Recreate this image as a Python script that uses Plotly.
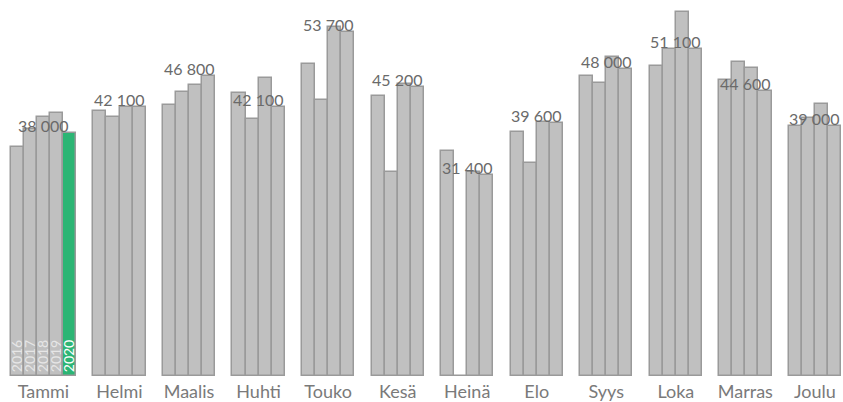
import plotly.graph_objects as go

months = ["Tammi", "Helmi", "Maalis", "Huhti", "Touko", "Kesä",
          "Heinä", "Elo", "Syys", "Loka", "Marras", "Joulu"]
years = ["2016", "2017", "2018", "2019", "2020"]

v2016 = [35800, 41400, 42400, 44200, 48800, 43800, 35200, 38200, 46800, 48500, 46300, 39100]
v2017 = [38600, 40400, 44300, 40200, 43100, 31800, 0, 33300, 45800, 51100, 49000, 40300]
v2018 = [40400, 42100, 45500, 46500, 54500, 45700, 31800, 39700, 49900, 56800, 48200, 42500]
v2019 = [41100, 42100, 46800, 42100, 53700, 45200, 31400, 39600, 48000, 51100, 44600, 39000]
v2020 = [38000, None, None, None, None, None, None, None, None, None, None, None]

series = [v2016, v2017, v2018, v2019, v2020]

GRAY = "#c0c0c0"
GREEN = "#2cb574"
EDGE = "#9a9a9a"
W = 0.188  # bar width in month units

# number of bars per month (right-aligned groups)
counts = [sum(1 for s in series if s[i] is not None) for i in range(len(months))]
xs = list(range(len(months)))

fig = go.Figure()
for k, (yr, vals) in enumerate(zip(years, series)):
    offsets = [(2 - counts[i] + k) * W for i in xs]
    texts = [yr if (i == 0 and vals[i] is not None) else "" for i in xs]
    color = GREEN if yr == "2020" else GRAY
    fig.add_trace(go.Bar(
        x=xs, y=vals, width=W, offset=offsets,
        marker=dict(color=color, line=dict(color=EDGE, width=1.5)),
        text=texts, textposition="inside", insidetextanchor="start",
        textangle=-90, constraintext="none",
        insidetextfont=dict(family="Lato", size=14,
                            color="#ffffff" if yr == "2020" else "#e6e6e6"),
        hoverinfo="skip", showlegend=False,
    ))

# group centres and last value per month
centers = [i + (2 - counts[i] / 2) * W for i in xs]
last_vals = [[s[i] for s in series if s[i] is not None][-1] for i in xs]

for i in xs:
    label = f"{last_vals[i]:,}".replace(",", " ")
    fig.add_annotation(x=centers[i], y=last_vals[i], text=label,
                       showarrow=False, yanchor="bottom", yshift=-4,
                       font=dict(family="Lato", size=16, color="#6a6a6a"))

fig.update_layout(
    width=843, height=402,
    margin=dict(l=0, r=0, t=0, b=26),
    paper_bgcolor="white", plot_bgcolor="white",
    bargap=0,
    xaxis=dict(range=[-0.7184, 11.404], tickvals=centers, ticktext=months,
               showgrid=False, zeroline=False, showline=False, ticks="",
               ticklabelstandoff=3,
               tickfont=dict(family="Lato", size=18, color="#7a7a7a"),
               fixedrange=True),
    yaxis=dict(range=[0, 58750], visible=False, showgrid=False,
               zeroline=False, fixedrange=True),
)

fig.write_html("out.html", config={"displayModeBar": False},
               post_script="document.body.style.margin='0';document.body.style.overflow='hidden';")
